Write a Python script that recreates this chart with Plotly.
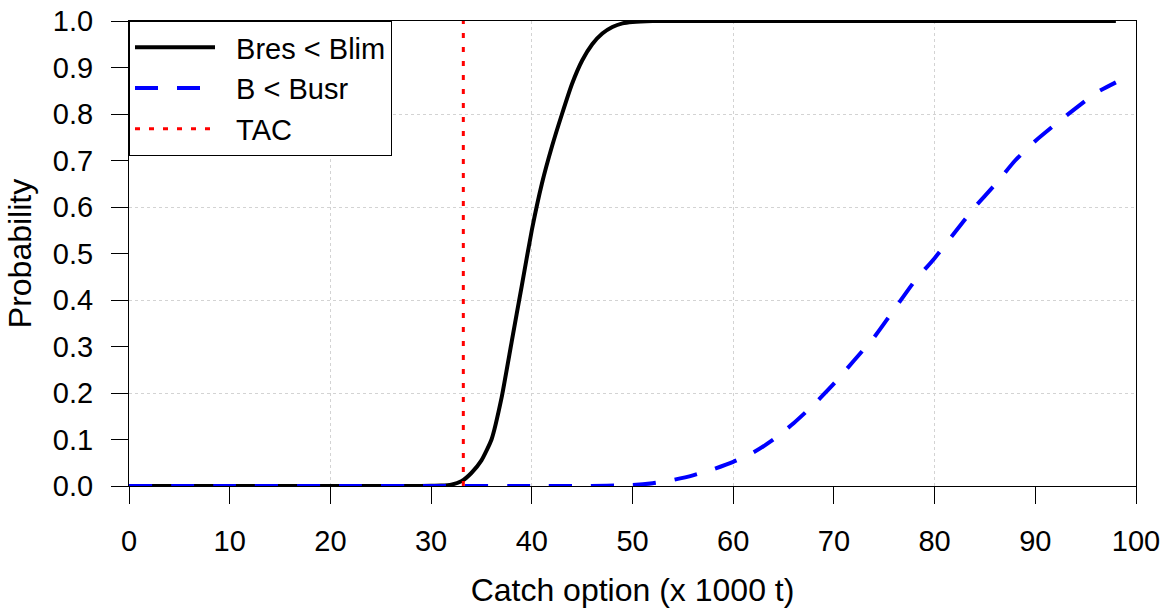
import plotly.graph_objects as go

# ---- data ----
catch_x = [0, 5, 10, 15, 20, 25, 28, 30, 31, 32, 33, 34, 35, 36, 37, 38, 39, 40,
           41, 42, 43, 44, 45, 46, 47, 48, 49, 50, 52, 55, 60, 70, 80, 90, 98]
p_bres_blim = [0, 0, 0, 0, 0, 0, 0, 0.0005, 0.001, 0.003, 0.01, 0.028, 0.055, 0.1, 0.19,
               0.31, 0.43, 0.55, 0.65, 0.73, 0.80, 0.865, 0.915, 0.95, 0.973, 0.987,
               0.995, 0.998, 1.0, 1.0, 1.0, 1.0, 1.0, 1.0, 1.0]

busr_x = [0, 10, 20, 30, 40, 45, 50, 52, 54, 56, 58, 60, 62, 64, 66, 68, 70, 72, 74,
          76, 78, 80, 82, 84, 86, 88, 90, 92, 94, 96, 98]
p_b_busr = [0, 0, 0, 0, 0, 0, 0.002, 0.006, 0.013, 0.023, 0.036, 0.052, 0.072, 0.1,
            0.135, 0.175, 0.22, 0.27, 0.32, 0.38, 0.44, 0.49, 0.545, 0.6, 0.648, 0.7,
            0.742, 0.778, 0.812, 0.845, 0.868]

tac_x = [33.2, 33.2]
tac_y = [0, 1]

series_names = ["Bres < Blim", "B < Busr", "TAC"]

x_ticks = [0, 10, 20, 30, 40, 50, 60, 70, 80, 90, 100]
y_ticks = [0.0, 0.1, 0.2, 0.3, 0.4, 0.5, 0.6, 0.7, 0.8, 0.9, 1.0]
x_grid = [0, 20, 40, 60, 80, 100]
y_grid = [0.0, 0.2, 0.4, 0.6, 0.8, 1.0]

FONT = "Liberation Sans, Arial, sans-serif"
FS = 29
FT = 32
PAD = "\u00a0\u00a0"  # small visual gap between legend sample and text

fig = go.Figure()
# dummy trace to hold grid axes
fig.add_trace(go.Scatter(x=[None], y=[None], xaxis="x2", yaxis="y2",
                         showlegend=False, hoverinfo="skip"))
fig.add_trace(go.Scatter(x=catch_x, y=p_bres_blim, mode="lines", name=PAD + series_names[0],
                         line=dict(color="black", width=4, shape="spline", smoothing=0.5)))
fig.add_trace(go.Scatter(x=busr_x, y=p_b_busr, mode="lines", name=PAD + series_names[1],
                         line=dict(color="#0000ff", width=4, dash="23px,19px",
                                   shape="spline", smoothing=0.5)))
fig.add_trace(go.Scatter(x=tac_x, y=tac_y, mode="lines", name=PAD + series_names[2],
                         line=dict(color="#ff0000", width=3, dash="5px,9px")))

axis_common = dict(showline=True, linecolor="black", linewidth=1, mirror=True,
                   ticks="outside", ticklen=17, tickwidth=1, tickcolor="black",
                   showgrid=False, zeroline=False, automargin=False,
                   tickfont=dict(family=FONT, size=FS, color="black"))

fig.update_layout(
    width=1166, height=608,
    margin=dict(l=129, r=30, t=21, b=122),
    plot_bgcolor="white", paper_bgcolor="white",
    font=dict(family=FONT, size=FS, color="black"),
    xaxis=dict(range=[0, 100], tickmode="array", tickvals=x_ticks,
               ticktext=[str(v) for v in x_ticks], ticklabelstandoff=12,
               title=dict(text="Catch option (x 1000 t)", standoff=23,
                          font=dict(family=FONT, size=FT)),
               **axis_common),
    yaxis=dict(range=[0, 1], tickmode="array", tickvals=y_ticks,
               ticktext=[f"{v:.1f}" for v in y_ticks], ticklabelstandoff=12,
               title=dict(text="Probability", standoff=11,
                          font=dict(family=FONT, size=FT)),
               **axis_common),
    xaxis2=dict(range=[0, 100], overlaying="x", anchor="y2", tickmode="array",
                tickvals=x_grid, showticklabels=False, ticks="", showgrid=True,
                gridcolor="#d3d3d3", griddash="dot", gridwidth=1, zeroline=False,
                showline=False, layer="below traces", automargin=False),
    yaxis2=dict(range=[0, 1], overlaying="y", anchor="x2", tickmode="array",
                tickvals=y_grid, showticklabels=False, ticks="", showgrid=True,
                gridcolor="#d3d3d3", griddash="dot", gridwidth=1, zeroline=False,
                showline=False, layer="below traces", automargin=False),
    legend=dict(x=0, y=1, xanchor="left", yanchor="top",
                bgcolor="white", bordercolor="black", borderwidth=1,
                font=dict(family=FONT, size=FS, color="black"),
                itemwidth=80, tracegroupgap=0),
    showlegend=True,
)

fig.write_html("out.html")
